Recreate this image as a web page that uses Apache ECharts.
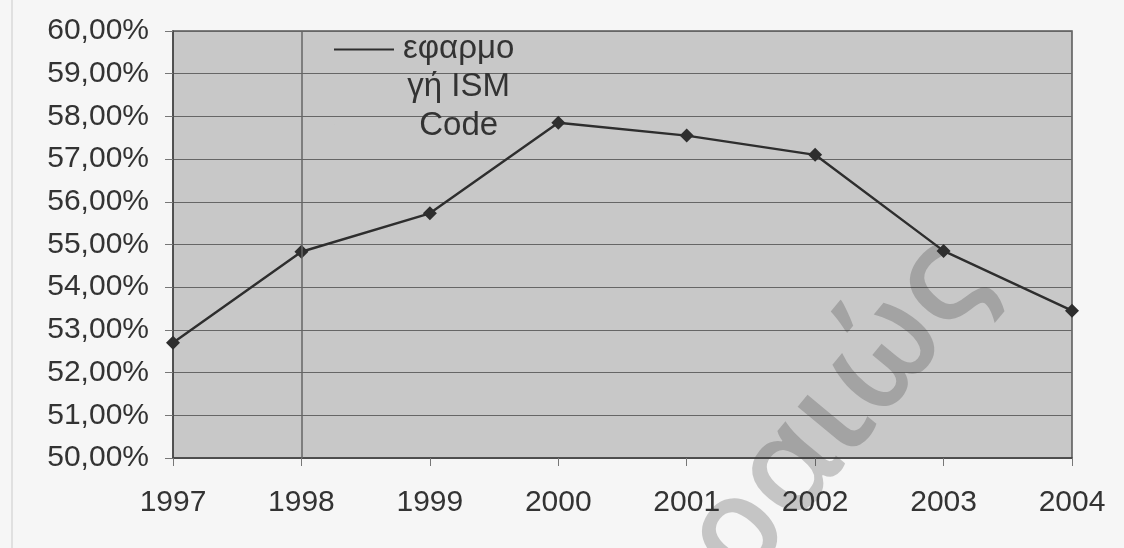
<!DOCTYPE html>
<html>
<head>
<meta charset="utf-8">
<script src="https://cdn.jsdelivr.net/npm/echarts@6/dist/echarts.min.js"></script>
<style>
html,body{margin:0;padding:0;background:#f6f6f6;}
#chart{width:1124px;height:548px;}
</style>
</head>
<body>
<div id="chart"></div>
<script>
var years = ['1997','1998','1999','2000','2001','2002','2003','2004'];
var ismValues = [52.7, 54.83, 55.73, 57.85, 57.55, 57.1, 54.85, 53.45];
var seriesName = 'εφαρμογή ISM Code';
var legendLines = ['εφαρμο', 'γή ISM', 'Code'];
var yMin = 50, yMax = 60, yStep = 1;
var markedYear = '1998';
var watermarkText = 'Πειραιώς';

var chart = echarts.init(document.getElementById('chart'), null, {renderer:'canvas'});
var font = '"Liberation Sans", Arial, sans-serif';
chart.setOption({
  backgroundColor: '#f6f6f6',
  animation: false,
  grid: {left:173, right:52, top:31, bottom:90, show:true, backgroundColor:'#c8c8c8', borderColor:'#555', borderWidth:1.5},
  legend: {
    left: 329, top: 27,
    icon: 'path://M0,0H60V2H0Z M0,75H0.01V77H0Z',
    itemWidth: 60, itemHeight: 77, itemGap: 0,
    formatter: function(){ return legendLines.map(function(l){return '{a|'+l+'}';}).join('\n'); },
    textStyle: {padding:[0,0,0,4], rich:{a:{align:'center', fontSize:33, lineHeight:38.5, fontFamily:font, color:'#333'}}},
    data: [seriesName]
  },
  xAxis: {
    type:'category', data: years, boundaryGap:false,
    axisLine:{lineStyle:{color:'#444', width:1.5}},
    axisTick:{show:true, length:8, lineStyle:{color:'#777', width:1}},
    axisLabel:{margin:30, fontSize:30, fontFamily:font, color:'#333'},
    splitLine:{show:false}
  },
  yAxis: {
    type:'value', min:yMin, max:yMax, interval:yStep,
    axisLine:{show:true, lineStyle:{color:'#444', width:1.5}},
    axisTick:{show:true, length:8, lineStyle:{color:'#777', width:1}},
    axisLabel:{margin:24, fontSize:30, fontFamily:font, color:'#333',
      formatter:function(v){return v.toFixed(2).replace('.', ',')+'%';}},
    splitLine:{show:true, lineStyle:{color:'#666', width:1.2}}
  },
  series: [{
    name: seriesName, type:'line', data: ismValues,
    symbol:'diamond', symbolSize:14,
    lineStyle:{color:'#2e2e2e', width:2.4},
    itemStyle:{color:'#2e2e2e'},
    markLine:{silent:true, symbol:'none', label:{show:false},
      lineStyle:{color:'#666', width:1.5, type:'solid'},
      data:[{xAxis: markedYear}]}
  }],
  graphic: [
    {type:'line', shape:{x1:12, y1:0, x2:12, y2:548}, style:{stroke:'#d8d8d8', lineWidth:1.5}, z:-1},
    {type:'text', x:962, y:262, rotation:0.88, z:100,
      style:{text: watermarkText, textAlign:'right', textVerticalAlign:'middle',
        font:'600 135px "Open Sans", sans-serif', fill:'rgba(50,50,50,0.25)'}}
  ]
});
</script>
</body>
</html>
